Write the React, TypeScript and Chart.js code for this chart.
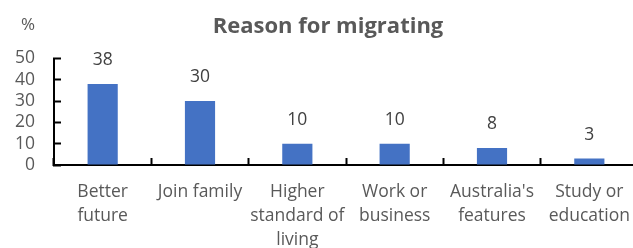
import React, { useEffect, useRef } from "react";
import { Chart, registerables } from "chart.js";

Chart.register(...registerables);

const categories: string[][] = [
  ["Better", "future"],
  ["Join family"],
  ["Higher", "standard of", "living"],
  ["Work or", "business"],
  ["Australia's", "features"],
  ["Study or", "education"],
];
const values: number[] = [38, 30, 10, 10, 8, 3];
const yTicks: number[] = [0, 10, 20, 30, 40, 50];
const titleText = "Reason for migrating";
const unitText = "%";

const FONT = '"Open Sans", sans-serif';

const labelPlugin = {
  id: "valueLabels",
  afterDraw(chart: any) {
    const ctx = chart.ctx;
    const meta = chart.getDatasetMeta(0);
    ctx.save();
    ctx.font = `17.5px ${FONT}`;
    ctx.fillStyle = "#404040";
    ctx.textAlign = "center";
    ctx.textBaseline = "middle";
    meta.data.forEach((el: any, i: number) => {
      ctx.fillText(String(values[i]), el.x, el.y - 24);
    });
    ctx.font = `bold 22px ${FONT}`;
    ctx.fillStyle = "#595959";
    ctx.fillText(titleText, 328, 27);
    ctx.font = `17px ${FONT}`;
    ctx.fillText(unitText, 28, 25);
    ctx.restore();
  },
};

export default function App() {
  const ref = useRef<HTMLCanvasElement | null>(null);
  useEffect(() => {
    if (!ref.current) return;
    const chart = new Chart(ref.current, {
      type: "bar",
      data: {
        labels: categories,
        datasets: [
          {
            data: values,
            backgroundColor: "#4472C4",
            borderWidth: 0,
            categoryPercentage: 1,
            barPercentage: 0.31,
          },
        ],
      },
      options: {
        responsive: false,
        animation: false,
        layout: { autoPadding: false, padding: { top: 58.5, right: 2, left: 0, bottom: 0 } },
        plugins: {
          legend: { display: false },
          title: { display: false },
          tooltip: { enabled: false },
        },
        scales: {
          x: {
            afterFit: (s: any) => {
              s.height = 83;
              s.paddingLeft = 0;
              s.paddingRight = 0;
            },
            border: { display: true, color: "#000", width: 2 },
            grid: {
              display: true,
              drawOnChartArea: false,
              drawTicks: true,
              tickLength: -7,
              tickWidth: 2,
              tickColor: "#000",
              offset: true,
            },
            ticks: {
              color: "#595959",
              font: { family: FONT, size: 17.5, lineHeight: "24px" as any },
              padding: 22,
              maxRotation: 0,
              autoSkip: false,
            },
          },
          y: {
            min: 0,
            max: 50,
            afterFit: (s: any) => {
              s.width = 54;
              s.paddingTop = 0;
              s.paddingBottom = 0;
            },
            afterBuildTicks: (s: any) => {
              s.ticks = yTicks.map((v) => ({ value: v }));
            },
            border: { display: true, color: "#000", width: 2 },
            grid: {
              display: true,
              drawOnChartArea: false,
              drawTicks: true,
              tickLength: -7,
              tickWidth: 2,
              tickColor: "#000",
            },
            ticks: {
              color: "#595959",
              font: { family: FONT, size: 17.5 },
              padding: 26,
              autoSkip: false,
            },
          },
        },
      },
      plugins: [labelPlugin],
    });
    return () => chart.destroy();
  }, []);
  return (
    <div
      style={{
        position: "fixed",
        left: 0,
        top: 0,
        width: 633,
        height: 248,
        overflow: "hidden",
        background: "#fff",
      }}
    >
      <canvas
        ref={ref}
        width={640}
        height={248}
        style={{ display: "block", width: 640, height: 248 }}
      />
    </div>
  );
}
